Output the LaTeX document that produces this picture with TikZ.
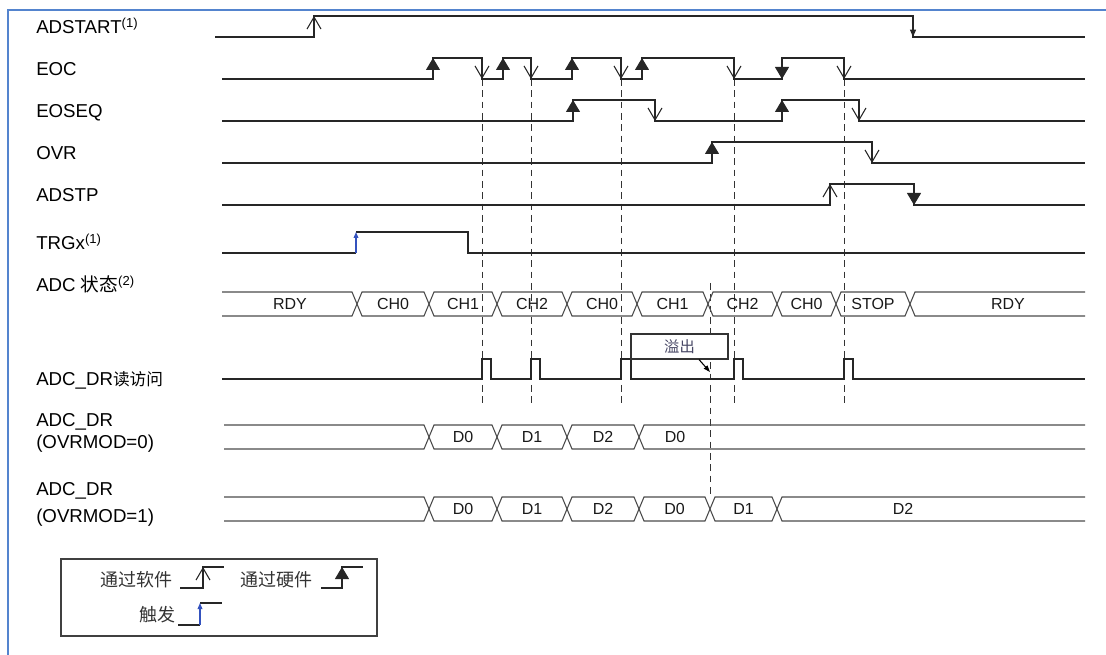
\documentclass[tikz,border=0pt]{standalone}
\usepackage{fontspec}
\setmainfont{Liberation Sans}
\newfontfamily\cjk{Noto Sans CJK SC}
\usetikzlibrary{arrows.meta}
\definecolor{framecol}{RGB}{84,132,206}
\definecolor{trigblue}{RGB}{52,82,190}
\definecolor{ovftext}{RGB}{70,70,100}

\begin{document}
\begin{tikzpicture}[x=0.75pt,y=-0.75pt,
  sig/.style={line width=0.8pt,black!85},
  swarr/.style={-{Straight Barb[length=9pt,width=10.5pt]}},
  hwarr/.style={-{Triangle[length=9pt,width=10.5pt]}},
  smallarr/.style={-{Triangle[length=5.5pt,width=4.5pt]}},
  trig/.style={line width=0.9pt,trigblue,-{Triangle[length=4.5pt,width=3.5pt]}},
  guide/.style={line width=0.7pt,black!80,dash pattern=on 5pt off 3.5pt},
  bus/.style={line width=0.8pt,black!70},
  lbl/.style={anchor=base west,inner sep=0pt,font=\fontsize{14}{16}\selectfont},
  buslbl/.style={inner sep=0pt,text=black!90,font=\fontsize{12}{14}\selectfont},
  cjklbl/.style={inner sep=0pt,text=black!80,font=\cjk\fontsize{13.5}{15}\selectfont}]
  \useasboundingbox (0,0) rectangle (1106,655);
  % Frame
  \draw[framecol,line width=1.2pt] (1106,10) -- (8,10) -- (8,655);
  % Row labels
  \node[lbl] (adstart) at (36,34) {ADSTART\textsuperscript{(1)}};
  \node[lbl] (eoc) at (36,76) {EOC};
  \node[lbl] (eoseq) at (36,118) {EOSEQ};
  \node[lbl] (ovr) at (36,160) {OVR};
  \node[lbl] (adstp) at (36,202) {ADSTP};
  \node[lbl] (trgx) at (36,250) {TRGx\textsuperscript{(1)}};
  \node[lbl] (state) at (36,292) {ADC {\cjk 状态}\textsuperscript{(2)}};
  \node[lbl] (rdacc) at (36,386) {ADC\_DR{\cjk\fontsize{12.5}{14}\selectfont 读访问}};
  \node[lbl] (dr0a) at (36,427) {ADC\_DR};
  \node[lbl] (dr0b) at (36,449) {(OVRMOD=0)};
  \node[lbl] (dr1a) at (36,495) {ADC\_DR};
  \node[lbl] (dr1b) at (36,522) {(OVRMOD=1)};
  % Dashed guides
  \foreach \x in {482,531,621,734,844}
    \draw[guide] (\x,79) -- (\x,406);
  \draw[guide] (710,283) -- (710,497);
  % Signals
  \draw[sig] (215,37) -| (314,16) -| (913,37) -- (1085,37);
  \draw[sig] (222,79) -| (433,58) -| (482,79) -| (503,58) -| (531,79) -| (572,58) -| (621,79)
    -| (642,58) -| (734,79) -| (782,58) -| (844,79) -- (1085,79);
  \draw[sig] (222,121) -| (573,100) -| (655,121) -| (782,100) -| (859,121) -- (1085,121);
  \draw[sig] (222,163) -| (712,142) -| (872,163) -- (1085,163);
  \draw[sig] (222,205) -| (830,184) -| (914,205) -- (1085,205);
  \draw[sig] (222,253) -- (356,253);
  \draw[sig] (356,232) -| (468,253) -- (1085,253);
  \draw[sig] (222,379) -| (482,359) -| (491,379) -| (531,359) -| (540,379) -| (621,359) -| (631,379)
    -| (734,359) -| (743,379) -| (844,359) -| (853,379) -- (1085,379);
  % Edge arrows - hardware
  \foreach \x/\a/\b in {433/79/58, 503/79/58, 572/79/58, 642/79/58, 782/58/79,
                        573/121/100, 782/121/100, 712/163/142, 914/184/205}
    \draw[sig,hwarr] (\x,\a) -- (\x,\b);
  % Edge arrows - software
  \foreach \x/\a/\b in {314/37/16, 482/58/79, 531/58/79, 621/58/79, 734/58/79, 844/58/79,
                        655/100/121, 859/100/121, 872/142/163, 830/205/184}
    \draw[sig,swarr] (\x,\a) -- (\x,\b);
  \draw[sig,smallarr] (913,16) -- (913,37);
  \draw[trig] (356,253) -- (356,232);
  % ADC state bus
  \draw[bus] (222,292) -- (352,292) -- (357,304) -- (352,316) -- (222,316);
  \node[buslbl] (st0) at (290,304) {RDY};
  \foreach \a/\b/\t [count=\i] in {357/429/CH0, 429/497/CH1, 497/567/CH2, 567/637/CH0,
                                   637/708/CH1, 708/777/CH2, 777/836/CH0, 836/910/STOP} {
    \draw[bus] (\a,304) -- (\a+5,292) -- (\b-5,292) -- (\b,304) -- (\b-5,316) -- (\a+5,316) -- cycle;
    \node[buslbl] (st\i) at ({(\a+\b)/2},304) {\t};
  }
  \draw[bus] (1085,292) -- (915,292) -- (910,304) -- (915,316) -- (1085,316);
  \node[buslbl] (st9) at (1008,304) {RDY};
  % Overrun box
  \node[draw=black!80,line width=0.8pt,fill=white,minimum width=72.75pt,minimum height=18.75pt,
        inner sep=0pt,text=ovftext,font=\cjk\fontsize{11.5}{12}\selectfont] (ovf) at (679.5,346.5) {溢出};
  \coordinate (ovftip) at (710,372);
  \draw[line width=0.8pt,-{Triangle[length=5pt,width=3.5pt]}] ([xshift=14.6pt]ovf.south) -- (ovftip);
  % ADC_DR OVRMOD=0
  \draw[bus] (224,425) -- (424,425) -- (429,437) -- (424,449) -- (224,449);
  \foreach \a/\b/\t [count=\i] in {429/497/D0, 497/567/D1, 567/639/D2} {
    \draw[bus] (\a,437) -- (\a+5,425) -- (\b-5,425) -- (\b,437) -- (\b-5,449) -- (\a+5,449) -- cycle;
    \node[buslbl] (da\i) at ({(\a+\b)/2},437) {\t};
  }
  \draw[bus] (1085,425) -- (644,425) -- (639,437) -- (644,449) -- (1085,449);
  \node[buslbl] (da4) at (675,437) {D0};
  % ADC_DR OVRMOD=1
  \draw[bus] (224,497) -- (424,497) -- (429,509) -- (424,521) -- (224,521);
  \foreach \a/\b/\t [count=\i] in {429/497/D0, 497/567/D1, 567/639/D2, 639/710/D0, 710/777/D1} {
    \draw[bus] (\a,509) -- (\a+5,497) -- (\b-5,497) -- (\b,509) -- (\b-5,521) -- (\a+5,521) -- cycle;
    \node[buslbl] (db\i) at ({(\a+\b)/2},509) {\t};
  }
  \draw[bus] (1085,497) -- (782,497) -- (777,509) -- (782,521) -- (1085,521);
  \node[buslbl] (db6) at (903,509) {D2};
  % Legend
  \draw[line width=1pt,black!75] (61,559) rectangle (377,636);
  \node[cjklbl] (lgsw) at (136.5,580) {通过软件};
  \draw[sig] (180,588) -| (203,567) -- (224,567);
  \draw[sig,swarr] (203,588) -- (203,567);
  \node[cjklbl] (lghw) at (276.5,580) {通过硬件};
  \draw[sig] (321,588) -| (342,567) -- (363,567);
  \draw[sig,hwarr] (342,588) -- (342,567);
  \node[cjklbl] (lgtr) at (157,615) {触发};
  \draw[sig] (178,625) -- (200,625);
  \draw[sig] (200,603) -- (222,603);
  \draw[trig] (200,625) -- (200,603);
\end{tikzpicture}
\end{document}
